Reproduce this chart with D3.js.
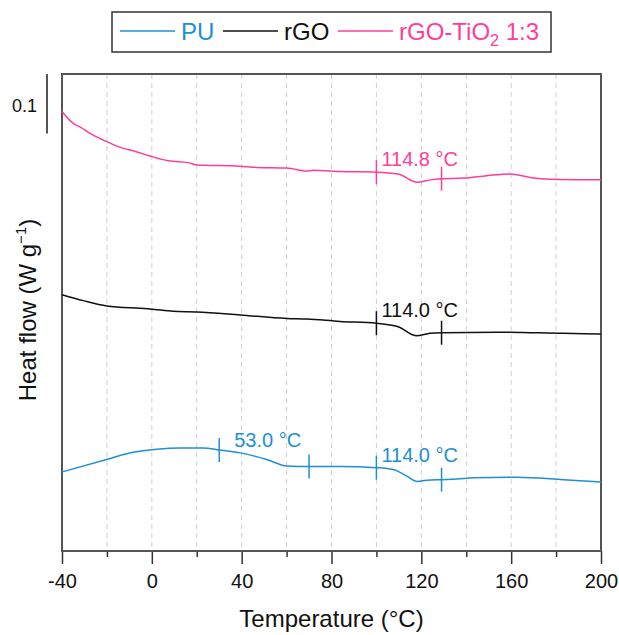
<!DOCTYPE html>
<html>
<head>
<meta charset="utf-8">
<script src="https://cdn.jsdelivr.net/npm/d3@7"></script>
<style>
  html, body { margin: 0; padding: 0; background: #fff; }
  svg { display: block; font-family: "Liberation Sans", Arial, Helvetica, sans-serif; }
</style>
</head>
<body>
<svg id="chart" width="619" height="635"></svg>
<script>
// DSC heat-flow curves (W g^-1, curves stacked with offsets)
const seriesNames = ["PU", "rGO", "rGO-TiO2 1:3"];
const seriesColors = ["#1e8fd6", "#111111", "#ff3d9a"];

const puTemp = [-40, -20.1, -8.3, 2.2, 12.5, 22.9, 30, 39.3, 51.1, 60.1, 70, 83.8, 100, 107.5, 113.5, 118.2, 122.4, 129, 135.8, 143.1, 162.5, 183.2, 200];
const puFlow = [0.131, 0.152, 0.164, 0.169, 0.171, 0.171, 0.168, 0.163, 0.152, 0.141, 0.140, 0.140, 0.138, 0.135, 0.124, 0.115, 0.117, 0.118, 0.119, 0.121, 0.122, 0.118, 0.114];

const rgoTemp = [-40, -30.5, -20.1, -5.3, -0.8, 9.6, 20.0, 39.3, 60.1, 69.0, 83.8, 100, 109.7, 117.6, 123.9, 129, 153.6, 183.2, 200];
const rgoFlow = [0.429, 0.419, 0.410, 0.406, 0.405, 0.401, 0.400, 0.395, 0.389, 0.388, 0.384, 0.381, 0.375, 0.360, 0.364, 0.365, 0.366, 0.364, 0.363];

const tioTemp = [-40, -35, -32, -28.3, -21.6, -12.7, -8.3, -0.8, 7.3, 16.2, 20, 39.3, 46.7, 60.1, 69, 71.9, 83.8, 100, 109.7, 118.2, 123.9, 129, 138.7, 149.1, 159.5, 168.4, 177.3, 200];
const tioFlow = [0.737, 0.717, 0.711, 0.702, 0.689, 0.675, 0.671, 0.662, 0.654, 0.651, 0.647, 0.645, 0.643, 0.642, 0.637, 0.638, 0.636, 0.635, 0.632, 0.618, 0.622, 0.624, 0.625, 0.629, 0.632, 0.626, 0.623, 0.622];

// transition onset / end markers and the labelled temperatures
const puMarks = [30, 70, 100, 129];
const puLabels = [{ at: 30, text: "53.0 °C" }, { at: 100, text: "114.0 °C" }];
const rgoMarks = [100, 129];
const rgoLabels = [{ at: 100, text: "114.0 °C" }];
const tioMarks = [100, 129];
const tioLabels = [{ at: 100, text: "114.8 °C" }];

const xTicks = [-40, 0, 40, 80, 120, 160, 200];
const xMinorTicks = [-20, 20, 60, 100, 140, 180];
const gridTemps = [-20, 0, 20, 40, 60, 80, 100, 120, 140, 160, 180];
const scaleBarValue = 0.1;

const svg = d3.select("#chart");
const m = { left: 62, right: 601, top: 74, bottom: 551 };

const x = d3.scaleLinear().domain([-40, 200]).range([m.left, m.right]);
const y = d3.scaleLinear().domain([-0.002, 0.8]).range([m.bottom, m.top]);

// dashed vertical grid
svg.append("g").selectAll("line").data(gridTemps).join("line")
  .attr("x1", d => x(d)).attr("x2", d => x(d))
  .attr("y1", m.top).attr("y2", m.bottom)
  .attr("stroke", "#cfcfcf").attr("stroke-width", 1)
  .attr("stroke-dasharray", "5,4");

// bottom axis: major ticks with labels, minor ticks without
const axMajor = svg.append("g").attr("transform", `translate(0,${m.bottom})`)
  .call(d3.axisBottom(x).tickValues(xTicks).tickSize(13).tickPadding(10).tickSizeOuter(0)
    .tickFormat(d => String(d)));
axMajor.select(".domain").remove();
axMajor.selectAll(".tick line").attr("stroke", "#333").attr("stroke-width", 1.5);
axMajor.selectAll(".tick text").attr("fill", "#111").attr("font-size", 20)
  .attr("font-family", "Liberation Sans, Arial, sans-serif");

const axMinor = svg.append("g").attr("transform", `translate(0,${m.bottom})`)
  .call(d3.axisBottom(x).tickValues(xMinorTicks).tickSize(6).tickFormat(""));
axMinor.select(".domain").remove();
axMinor.selectAll(".tick line").attr("stroke", "#333").attr("stroke-width", 1.5);

// plot frame
svg.append("rect")
  .attr("x", m.left).attr("y", m.top)
  .attr("width", m.right - m.left).attr("height", m.bottom - m.top)
  .attr("fill", "none").attr("stroke", "#555").attr("stroke-width", 2);

// curves
const line = d3.line().x(d => x(d[0])).y(d => y(d[1])).curve(d3.curveMonotoneX);
const series = [
  { temp: puTemp, flow: puFlow, marks: puMarks, labels: puLabels, color: seriesColors[0] },
  { temp: rgoTemp, flow: rgoFlow, marks: rgoMarks, labels: rgoLabels, color: seriesColors[1] },
  { temp: tioTemp, flow: tioFlow, marks: tioMarks, labels: tioLabels, color: seriesColors[2] }
];

series.forEach(s => {
  const pts = s.temp.map((t, i) => [t, s.flow[i]]);
  svg.append("path").datum(pts)
    .attr("d", line).attr("fill", "none")
    .attr("stroke", s.color).attr("stroke-width", 1.5);

  const flowAt = t => s.flow[s.temp.indexOf(t)];
  svg.append("g").selectAll("line").data(s.marks).join("line")
    .attr("x1", d => x(d)).attr("x2", d => x(d))
    .attr("y1", d => y(flowAt(d)) - 12).attr("y2", d => y(flowAt(d)) + 12)
    .attr("stroke", s.color).attr("stroke-width", 1.5);

  svg.append("g").selectAll("text").data(s.labels).join("text")
    .attr("x", d => x(d.at) + (d.at < 60 ? 15 : 5))
    .attr("y", d => y(flowAt(d.at)) - (d.at < 60 ? 3 : 6))
    .attr("fill", s.color).attr("font-size", 20)
    .text(d => d.text);
});

// 0.1 W/g scale bar
const barTop = y.domain()[1];
svg.append("line")
  .attr("x1", 47).attr("x2", 47)
  .attr("y1", y(barTop)).attr("y2", y(barTop - scaleBarValue))
  .attr("stroke", "#555").attr("stroke-width", 2);
svg.append("text").attr("x", 37).attr("y", 112).attr("text-anchor", "end")
  .attr("font-size", 18).attr("fill", "#111").text(String(scaleBarValue));

// axis titles
svg.append("text").attr("x", (m.left + m.right) / 2).attr("y", 627)
  .attr("text-anchor", "middle").attr("font-size", 24).attr("fill", "#111")
  .text("Temperature (°C)");

const yt = svg.append("text")
  .attr("transform", "translate(36,310) rotate(-90)")
  .attr("text-anchor", "middle").attr("font-size", 24).attr("fill", "#111");
yt.append("tspan").text("Heat flow (W g");
yt.append("tspan").attr("font-size", 15).attr("dy", -10).text("−1");
yt.append("tspan").attr("dy", 10).text(")");

// legend
const lg = svg.append("g");
lg.append("rect").attr("x", 112).attr("y", 12).attr("width", 439).attr("height", 40)
  .attr("fill", "#fff").attr("stroke", "#333").attr("stroke-width", 1.5);
const legendX = [120, 223, 338];
series.forEach((s, i) => {
  lg.append("line").attr("x1", legendX[i]).attr("x2", legendX[i] + 55)
    .attr("y1", 31).attr("y2", 31).attr("stroke", s.color).attr("stroke-width", 1.5);
  const t = lg.append("text").attr("x", legendX[i] + 61).attr("y", 39.5)
    .attr("font-size", 24).attr("fill", s.color);
  if (i === 2) {
    t.append("tspan").text("rGO-TiO");
    t.append("tspan").attr("font-size", 16).attr("dy", 6).text("2");
    t.append("tspan").attr("dy", -6).text(" 1:3");
  } else {
    t.text(seriesNames[i]);
  }
});
</script>
</body>
</html>
